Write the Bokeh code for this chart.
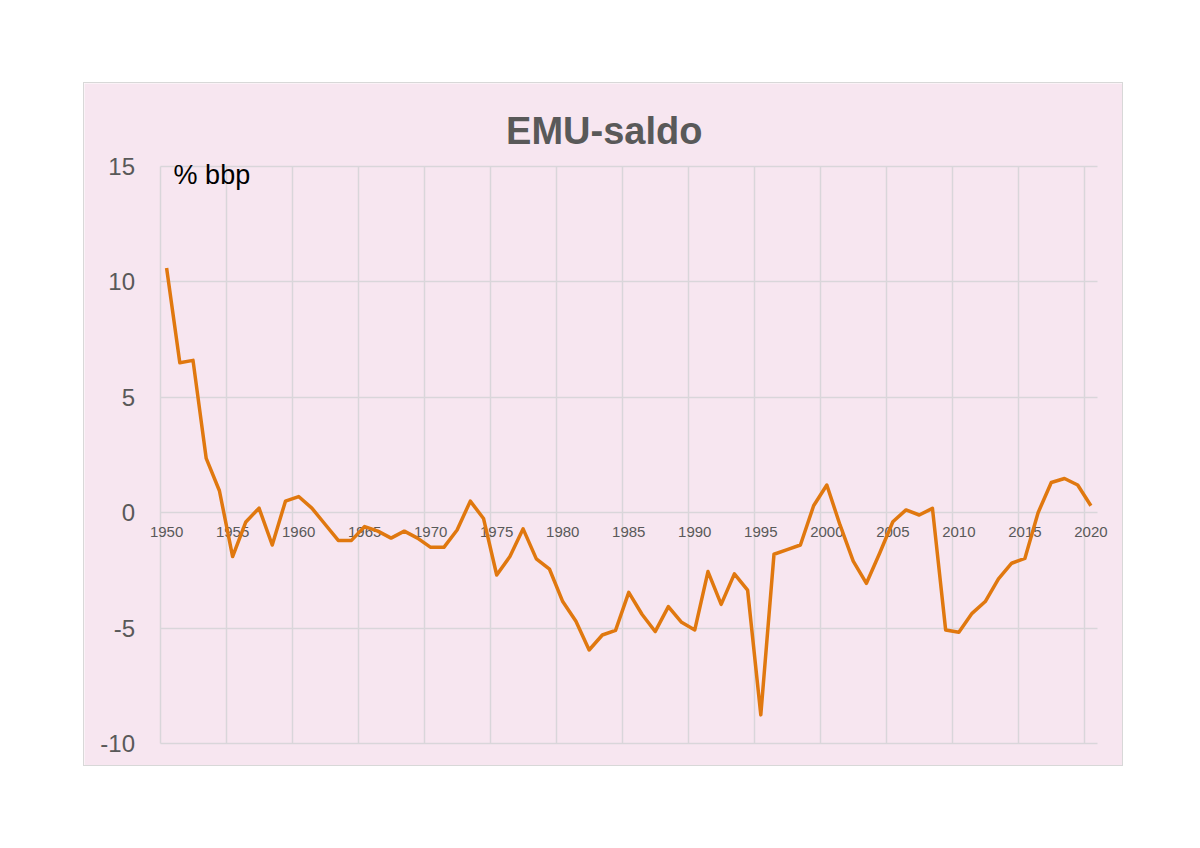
from bokeh.plotting import figure
from bokeh.models import FixedTicker, Grid
from bokeh.core.properties import value
from bokeh.embed import file_html
from bokeh.resources import INLINE

years = list(range(1950, 2021))
saldo = [10.6, 6.5, 6.6, 2.35, 0.95, -1.9, -0.4, 0.2, -1.4, 0.5,
         0.7, 0.2, -0.5, -1.2, -1.2, -0.6, -0.8, -1.1, -0.8, -1.1,
         -1.5, -1.5, -0.75, 0.5, -0.25, -2.7, -1.9, -0.7, -2.0, -2.45,
         -3.85, -4.7, -5.95, -5.3, -5.1, -3.45, -4.4, -5.15, -4.07, -4.75,
         -5.08, -2.55, -3.97, -2.65, -3.35, -8.76, -1.8, -1.6, -1.4, 0.3,
         1.2, -0.53, -2.1, -3.06, -1.76, -0.39, 0.12, -0.1, 0.19, -5.08,
         -5.18, -4.36, -3.85, -2.87, -2.19, -1.98, 0.0, 1.31, 1.48, 1.2,
         0.3]
tick_years = [1950, 1955, 1960, 1965, 1970, 1975, 1980, 1985, 1990, 1995,
              2000, 2005, 2010, 2015, 2020]
tick_labels = [str(y) for y in tick_years]
y_ticks = [-10, -5, 0, 5, 10, 15]
y_labels = ["-10", "-5", "0", "5", "10", "15"]
title_text = "EMU-saldo"
unit_text = "% bbp"

PINK = "#f7e6f0"
GRID = "#d9d6da"
TXT = "#595959"
FONT = "Liberation Sans"

# plot area (category band edges) and value limits
x_lo, x_hi = years[0] - 0.5, years[-1] + 0.5
y_lo, y_hi = y_ticks[0], y_ticks[-1]

W, H = 1040, 684
left_px, right_px, top_px, bottom_px = 75.5, 27.0, 83.0, 24.0
sx = (W - left_px - right_px) / (x_hi - x_lo)
sy = (H - top_px - bottom_px) / (y_hi - y_lo)

p = figure(width=W, height=H, output_backend="svg", toolbar_location=None,
           x_range=(x_lo - left_px / sx, x_hi + right_px / sx),
           y_range=(y_lo - bottom_px / sy, y_hi + top_px / sy),
           x_axis_location=None, y_axis_location=None,
           min_border=0, min_border_left=0, min_border_right=0,
           min_border_top=0, min_border_bottom=0,
           background_fill_color=PINK, border_fill_color=PINK,
           outline_line_color=None, margin=(82, 0, 0, 83))
p.styles = {"border": "1px solid #d8d8d8"}

# hide default grids
for g in list(p.center):
    if isinstance(g, Grid):
        g.visible = False
        g.grid_line_color = None

p.add_layout(Grid(dimension=1, ticker=FixedTicker(ticks=y_ticks),
                  bounds=(y_lo, y_hi), cross_bounds=(x_lo, x_hi),
                  grid_line_color=GRID, grid_line_width=1.5))
grid_pos = [t - 0.5 for t in tick_years]
p.add_layout(Grid(dimension=0, ticker=FixedTicker(ticks=grid_pos),
                  bounds=(x_lo, x_hi), cross_bounds=(y_lo, y_hi),
                  grid_line_color=GRID, grid_line_width=1.5))

# y tick labels
p.text(x=[x_lo] * len(y_ticks), y=y_ticks, text=y_labels, x_offset=-25,
       text_align="right", text_baseline="middle",
       text_font=value(FONT), text_font_size="24px", text_color=TXT)

# x tick labels along the zero line
p.text(x=tick_years, y=[0] * len(tick_years), text=tick_labels,
       text_align="center", text_baseline="middle", y_offset=19,
       text_font=value(FONT), text_font_size="15px", text_color=TXT)

p.line(years, saldo, line_color="#e0780f", line_width=3.5, line_join="round")

# title
p.text(x=[(x_lo + x_hi) / 2], y=[y_hi], text=[title_text], x_offset=-24.5, y_offset=-36,
       text_align="center", text_baseline="alphabetic",
       text_font=value(FONT), text_font_size="38px", text_font_style="bold",
       text_color=TXT)

# unit label
p.text(x=[years[0]], y=[y_hi], text=[unit_text], x_offset=7, y_offset=8,
       text_align="left", text_baseline="alphabetic",
       text_font=value(FONT), text_font_size="27px", text_color="#000000")

open("out.html", "w").write(file_html(p, INLINE))
